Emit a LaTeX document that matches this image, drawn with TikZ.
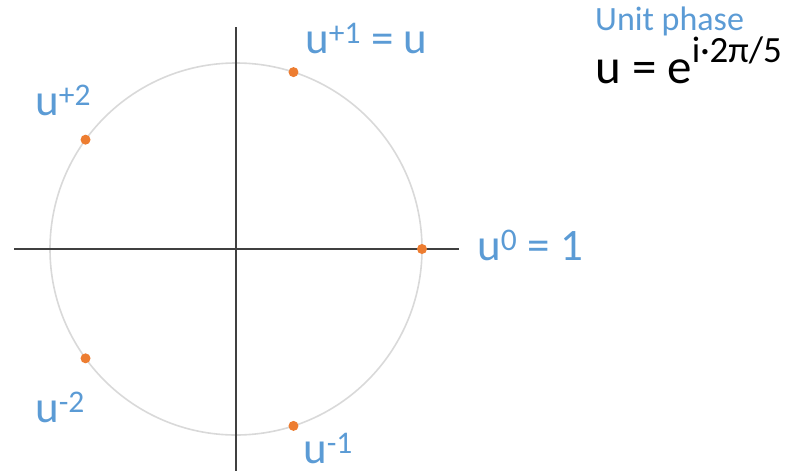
\documentclass[tikz,border=0pt]{standalone}
\usepackage{fontspec}
\setmainfont{Carlito}
\usetikzlibrary{calc}
\definecolor{lblue}{HTML}{5B9BD5}
\definecolor{dorange}{HTML}{ED7D31}
\definecolor{ringgray}{HTML}{D9D9D9}
\definecolor{axisgray}{HTML}{404040}
\begin{document}
\begin{tikzpicture}[x=1pt,y=-1pt,
  lbl/.style={text=lblue,font=\fontsize{45}{45}\selectfont,anchor=base west,inner sep=0pt},
  dot/.style={circle,fill=dorange,inner sep=0pt,minimum size=10pt},
  axis/.style={draw=axisgray,line width=1.3pt}]
\useasboundingbox (0,0) rectangle (805,471);
\coordinate (c) at (236,249);
\draw[ringgray,line width=1.6pt] (c) circle[radius=186];
\coordinate (xl) at (14,249);
\coordinate (xr) at (459,249);
\coordinate (yt) at (236,27);
\coordinate (yb) at (236,471);
\draw[axis] (xl) -- (xr);
\draw[axis] (yt) -- (yb);
\node[dot] (p0) at ($(c)+(0:186)$) {};
\node[dot] (p1) at ($(c)+(72:186)$) {};
\node[dot] (p2) at ($(c)+(144:186)$) {};
\node[dot] (p3) at ($(c)+(216:186)$) {};
\node[dot] (p4) at ($(c)+(288:186)$) {};
\node[lbl] (l1) at (305,53) {u\textsuperscript{+1} = u};
\node[lbl] (l0) at (477,260) {u\textsuperscript{0} = 1};
\node[lbl] (l2) at (35,115) {u\textsuperscript{+2}};
\node[lbl] (l3) at (35,422) {u\textsuperscript{-2}};
\node[lbl,text depth=0pt] (l4) at (303,463) {u\textsuperscript{-1}};
\node[text=lblue,font=\fontsize{34}{34}\selectfont,anchor=base west,inner sep=0pt] (t) at (595,30) {Unit phase};
\node[text=black,font=\fontsize{49}{49}\selectfont,anchor=base west,inner sep=0pt] (f) at (595,83) {u = e\raisebox{21pt}{\fontsize{37}{37}\selectfont i·2π/5}};
\end{tikzpicture}
\end{document}
